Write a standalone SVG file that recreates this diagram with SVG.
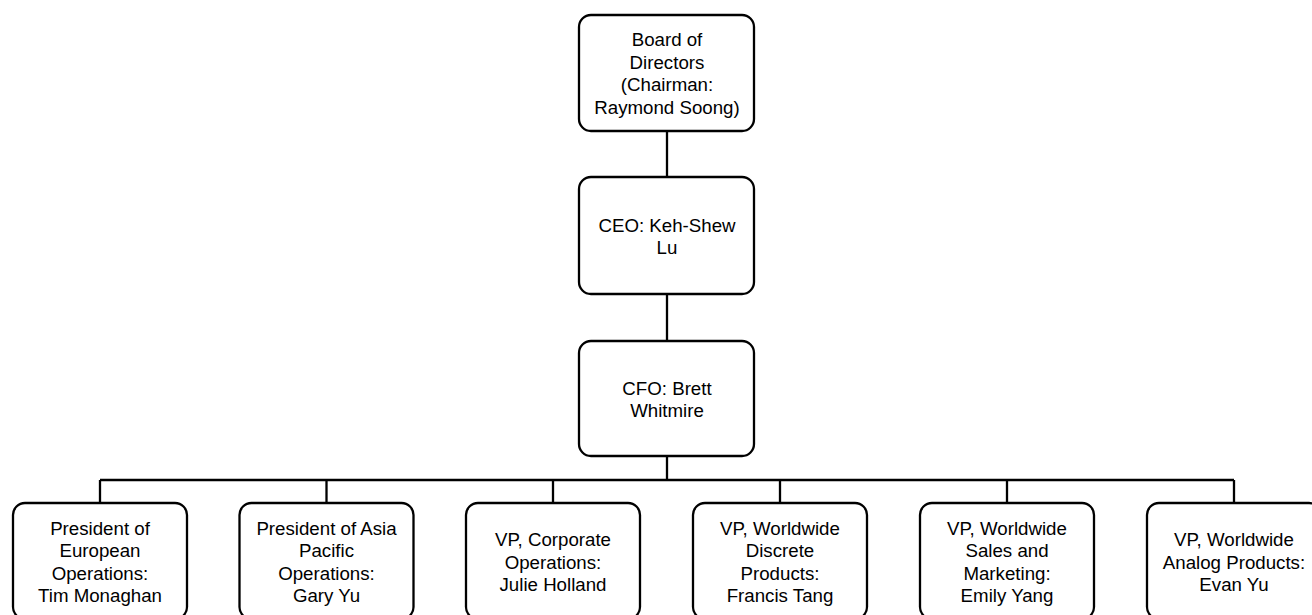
<svg xmlns="http://www.w3.org/2000/svg" width="1312" height="615" viewBox="0 0 1312 615">
<style>
.box{fill:#fff;stroke:#000;stroke-width:2.3}
.lbl{font-family:"Liberation Sans",Arial,sans-serif;font-size:18.7px;fill:#000;text-anchor:middle}
.conn{fill:none;stroke:#000;stroke-width:2.3}
</style>
<rect width="1312" height="615" fill="#fff"/>
<g id="connectors">
<path class="conn" d="M667 131V177M667 294V341M667 456V480M100 480H1234M100 480V503M326.5 480V503M553 480V503M780 480V503M1007 480V503M1234 480V503"/>
</g>
<g id="board">
<rect class="box" x="579" y="15" width="175" height="116" rx="12"/>
<text class="lbl" x="667" y="46">Board of</text>
<text class="lbl" x="667" y="68.5">Directors</text>
<text class="lbl" x="667" y="91">(Chairman:</text>
<text class="lbl" x="667" y="113.5">Raymond Soong)</text>
</g>
<g id="ceo">
<rect class="box" x="579" y="177" width="175" height="117" rx="12"/>
<text class="lbl" x="667" y="231.5">CEO: Keh-Shew</text>
<text class="lbl" x="667" y="254">Lu</text>
</g>
<g id="cfo">
<rect class="box" x="579" y="341" width="175" height="115" rx="12"/>
<text class="lbl" x="667" y="394.5">CFO: Brett</text>
<text class="lbl" x="667" y="417">Whitmire</text>
</g>
<g id="europe">
<rect class="box" x="13" y="503" width="174" height="116" rx="12"/>
<text class="lbl" x="100" y="534.5">President of</text>
<text class="lbl" x="100" y="557">European</text>
<text class="lbl" x="100" y="579.5">Operations:</text>
<text class="lbl" x="100" y="602">Tim Monaghan</text>
</g>
<g id="asia">
<rect class="box" x="239.5" y="503" width="174" height="116" rx="12"/>
<text class="lbl" x="326.5" y="534.5">President of Asia</text>
<text class="lbl" x="326.5" y="557">Pacific</text>
<text class="lbl" x="326.5" y="579.5">Operations:</text>
<text class="lbl" x="326.5" y="602">Gary Yu</text>
</g>
<g id="corporate">
<rect class="box" x="466" y="503" width="174" height="116" rx="12"/>
<text class="lbl" x="553" y="546">VP, Corporate</text>
<text class="lbl" x="553" y="568.5">Operations:</text>
<text class="lbl" x="553" y="591">Julie Holland</text>
</g>
<g id="discrete">
<rect class="box" x="693" y="503" width="174" height="116" rx="12"/>
<text class="lbl" x="780" y="534.5">VP, Worldwide</text>
<text class="lbl" x="780" y="557">Discrete</text>
<text class="lbl" x="780" y="579.5">Products:</text>
<text class="lbl" x="780" y="602">Francis Tang</text>
</g>
<g id="sales">
<rect class="box" x="920" y="503" width="174" height="116" rx="12"/>
<text class="lbl" x="1007" y="534.5">VP, Worldwide</text>
<text class="lbl" x="1007" y="557">Sales and</text>
<text class="lbl" x="1007" y="579.5">Marketing:</text>
<text class="lbl" x="1007" y="602">Emily Yang</text>
</g>
<g id="analog">
<rect class="box" x="1147" y="503" width="174" height="116" rx="12"/>
<text class="lbl" x="1234" y="546">VP, Worldwide</text>
<text class="lbl" x="1234" y="568.5">Analog Products:</text>
<text class="lbl" x="1234" y="591">Evan Yu</text>
</g>
</svg>
